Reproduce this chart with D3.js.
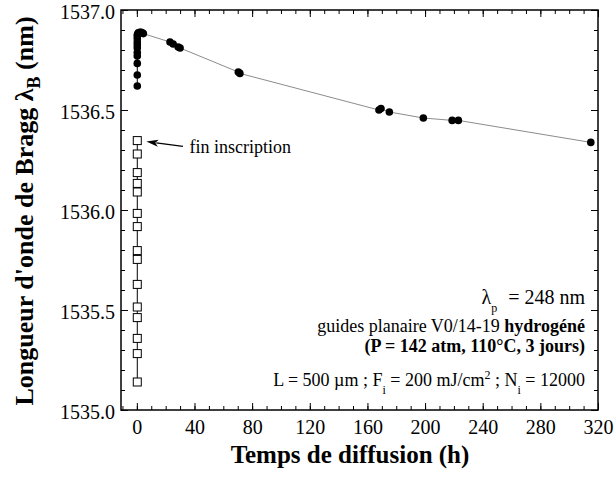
<!DOCTYPE html>
<html>
<head>
<meta charset="utf-8">
<script src="https://cdn.jsdelivr.net/npm/d3@7"></script>
<style>
  body { margin: 0; background: #fff; }
  text { font-family: "Liberation Serif", "Times New Roman", Times, serif; }
</style>
</head>
<body>
<script>
// Bragg wavelength vs diffusion time

// inscription phase, filled circles close to t = 0
let inscrT = [0.3, 0.3, 0.3, 0.3, 0.3, 0.3, 0.3, 0.3, 0.3, 0.3, 0.5, 1, 2, 3, 4, 4.5];
let inscrV = [1536.62, 1536.675, 1536.733, 1536.77, 1536.787, 1536.81, 1536.825, 1536.84, 1536.858, 1536.872,
              1536.88, 1536.886, 1536.889, 1536.888, 1536.885, 1536.882];

// out-diffusion, filled circles joined by the grey line
let diffT = [4.5, 23, 25.2, 28.7, 30, 70.4, 71.5, 168, 169.4, 175.2, 198.8, 218.8, 223.1, 315];
let diffV = [1536.882, 1536.84, 1536.83, 1536.815, 1536.81, 1536.69, 1536.683, 1536.50, 1536.507, 1536.49,
             1536.46, 1536.448, 1536.448, 1536.338];

// open squares during writing
let sqT = [0.3, 0.3, 0.3, 0.3, 0.3, 0.3, 0.3, 0.3, 0.3, 0.3, 0.3, 0.3, 0.3, 0.3, 0.3];
let sqV = [1536.347, 1536.28, 1536.187, 1536.133, 1536.09, 1535.983, 1535.917, 1535.797, 1535.753,
           1535.628, 1535.515, 1535.462, 1535.358, 1535.282, 1535.14];

let xMajor = [0, 40, 80, 120, 160, 200, 240, 280, 320];
let yMajor = [1535.0, 1535.5, 1536.0, 1536.5, 1537.0];

let FONT = "'Liberation Serif', 'Times New Roman', Times, serif";

function main() {
    let W = 616, H = 481;
    let left = 121, right = 598, top = 10, bottom = 410;

    let x = d3.scaleLinear().domain([-11, 320]).range([left, right]);
    let y = d3.scaleLinear().domain([1535, 1537]).range([bottom, top]);

    let svg = d3.select("body").append("svg")
        .attr("width", W).attr("height", H)
        .attr("font-family", FONT);

    let xMinor = d3.range(-10, 321, 10);
    let yMinor = d3.range(0, 21).map(function (i) { return 1535 + i * 0.1; });

    // minor ticks, all four sides, pointing inward
    svg.append("g").attr("transform", "translate(0," + bottom + ")")
        .call(d3.axisBottom(x).tickValues(xMinor).tickSize(-4).tickFormat(""));
    svg.append("g").attr("transform", "translate(0," + top + ")")
        .call(d3.axisTop(x).tickValues(xMinor).tickSize(-4).tickFormat(""));
    svg.append("g").attr("transform", "translate(" + left + ",0)")
        .call(d3.axisLeft(y).tickValues(yMinor).tickSize(-4).tickFormat(""));
    svg.append("g").attr("transform", "translate(" + right + ",0)")
        .call(d3.axisRight(y).tickValues(yMinor).tickSize(-4).tickFormat(""));

    // major ticks
    let xb = svg.append("g").attr("transform", "translate(0," + bottom + ")")
        .call(d3.axisBottom(x).tickValues(xMajor).tickSize(-7).tickPadding(10).tickFormat(d3.format("d")));
    svg.append("g").attr("transform", "translate(0," + top + ")")
        .call(d3.axisTop(x).tickValues(xMajor).tickSize(-7).tickFormat(""));
    let yl = svg.append("g").attr("transform", "translate(" + left + ",0)")
        .call(d3.axisLeft(y).tickValues(yMajor).tickSize(-7).tickPadding(6).tickFormat(d3.format(".1f")));
    svg.append("g").attr("transform", "translate(" + right + ",0)")
        .call(d3.axisRight(y).tickValues(yMajor).tickSize(-7).tickFormat(""));

    svg.selectAll("g").attr("font-family", FONT);
    svg.selectAll(".domain").remove();
    svg.selectAll(".tick line").attr("stroke", "#000").attr("stroke-width", 1);
    svg.selectAll(".tick text").attr("fill", "#000");
    xb.selectAll(".tick text").attr("font-size", 20);
    yl.selectAll(".tick text").attr("font-size", 20).attr("dy", "0.4em");

    // frame
    svg.append("rect")
        .attr("x", left).attr("y", top)
        .attr("width", right - left).attr("height", bottom - top)
        .attr("fill", "none").attr("stroke", "#000").attr("stroke-width", 1.5);

    let line = d3.line()
        .x(function (d) { return x(d[0]); })
        .y(function (d) { return y(d[1]); });

    let inscr = d3.zip(inscrT, inscrV);
    let diff = d3.zip(diffT, diffV);
    let sq = d3.zip(sqT, sqV);

    svg.append("path").datum(diff).attr("d", line)
        .attr("fill", "none").attr("stroke", "#8c8c8c").attr("stroke-width", 1);
    svg.append("path").datum(inscr).attr("d", line)
        .attr("fill", "none").attr("stroke", "#000").attr("stroke-width", 1);
    svg.append("path").datum(sq).attr("d", line)
        .attr("fill", "none").attr("stroke", "#000").attr("stroke-width", 1);

    svg.selectAll("circle.pt")
        .data(inscr.concat(diff.slice(1)))
        .enter().append("circle")
        .attr("class", "pt")
        .attr("r", 3.8)
        .attr("cx", function (d) { return x(d[0]); })
        .attr("cy", function (d) { return y(d[1]); })
        .attr("fill", "#000");

    svg.selectAll("rect.sq")
        .data(sq)
        .enter().append("rect")
        .attr("class", "sq")
        .attr("x", function (d) { return x(d[0]) - 4; })
        .attr("y", function (d) { return y(d[1]) - 4; })
        .attr("width", 8).attr("height", 8)
        .attr("fill", "#fff").attr("stroke", "#000").attr("stroke-width", 1);

    // arrow "fin inscription"
    let ax1 = x(32), ay1 = y(1536.318), ax2 = x(6.6), ay2 = y(1536.342);
    let ang = Math.atan2(ay2 - ay1, ax2 - ax1);
    let hl = 12, hw = 3.5;
    let bx = ax2 - hl * Math.cos(ang), by = ay2 - hl * Math.sin(ang);
    let nx = -Math.sin(ang), ny = Math.cos(ang);
    svg.append("line")
        .attr("x1", ax1).attr("y1", ay1)
        .attr("x2", bx + 2 * Math.cos(ang)).attr("y2", by + 2 * Math.sin(ang))
        .attr("stroke", "#000").attr("stroke-width", 1.2);
    svg.append("path")
        .attr("d", "M" + ax2 + "," + ay2 +
            "L" + (bx + hw * nx) + "," + (by + hw * ny) +
            "L" + (bx + 3 * Math.cos(ang)) + "," + (by + 3 * Math.sin(ang)) +
            "L" + (bx - hw * nx) + "," + (by - hw * ny) + "Z")
        .attr("fill", "#000");
    svg.append("text")
        .attr("x", x(36.5)).attr("y", y(1536.285))
        .attr("font-size", 18)
        .text("fin inscription");

    // conditions
    let tx = 585;
    let t1 = svg.append("text").attr("x", tx).attr("y", 304).attr("text-anchor", "end").attr("font-size", 20);
    t1.append("tspan").text("λ");
    t1.append("tspan").attr("dy", 8).attr("font-size", 12).text("p");
    t1.append("tspan").attr("dy", -8).attr("dx", 6).text(" = 248 nm");

    let t2 = svg.append("text").attr("x", tx).attr("y", 332).attr("text-anchor", "end").attr("font-size", 18);
    t2.append("tspan").text("guides planaire V0/14-19 ");
    t2.append("tspan").attr("font-weight", "bold").text("hydrogéné");

    svg.append("text").attr("x", tx).attr("y", 352).attr("text-anchor", "end")
        .attr("font-size", 18).attr("font-weight", "bold")
        .text("(P = 142 atm, 110°C, 3 jours)");

    let t4 = svg.append("text").attr("x", tx).attr("y", 386).attr("text-anchor", "end").attr("font-size", 18);
    t4.append("tspan").text("L = 500 µm ; F");
    t4.append("tspan").attr("dy", 8).attr("font-size", 12).text("i");
    t4.append("tspan").attr("dy", -8).text(" = 200 mJ/cm");
    t4.append("tspan").attr("dy", -7).attr("font-size", 12).text("2");
    t4.append("tspan").attr("dy", 7).text(" ; N");
    t4.append("tspan").attr("dy", 8).attr("font-size", 12).text("i");
    t4.append("tspan").attr("dy", -8).text(" = 12000");

    // axis titles
    svg.append("text")
        .attr("x", 350).attr("y", 463)
        .attr("text-anchor", "middle")
        .attr("font-size", 25).attr("font-weight", "bold")
        .text("Temps de diffusion (h)");

    let yt = svg.append("text")
        .attr("transform", "translate(33,211) rotate(-90)")
        .attr("text-anchor", "middle")
        .attr("font-size", 26).attr("font-weight", "bold");
    yt.append("tspan").text("Longueur d'onde de Bragg λ");
    yt.append("tspan").attr("dy", 7).attr("font-size", 18).text("B");
    yt.append("tspan").attr("dy", -7).text(" (nm)");
}

main();
</script>
</body>
</html>
